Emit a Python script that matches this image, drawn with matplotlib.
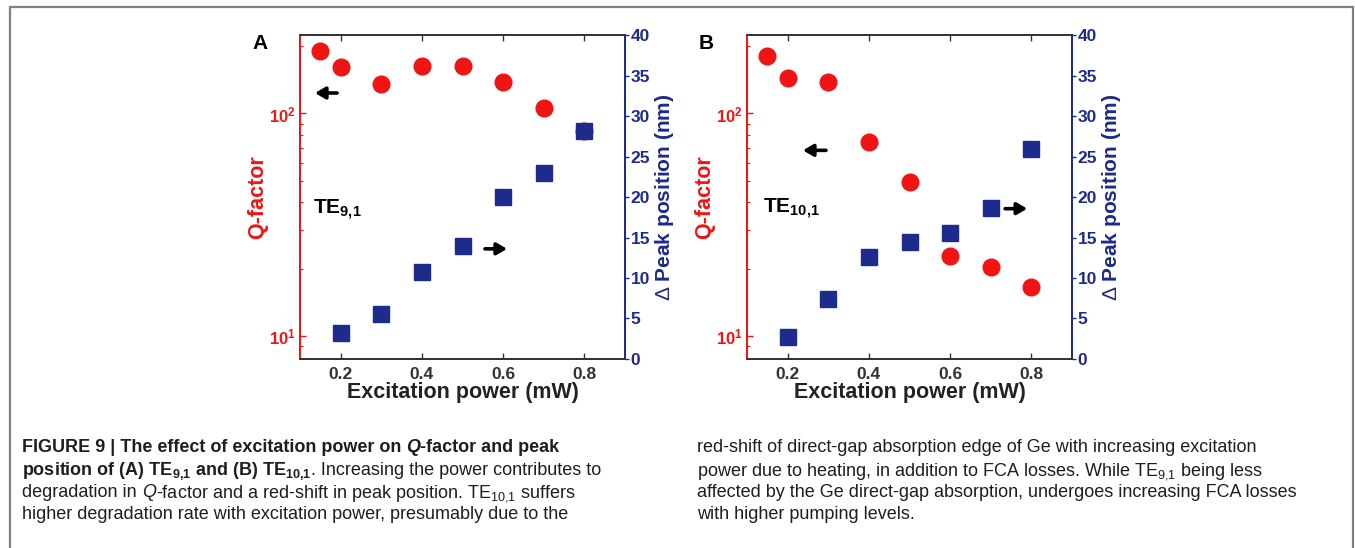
import numpy as np
import matplotlib
matplotlib.use("Agg")
import matplotlib.pyplot as plt
from matplotlib.patches import Rectangle
from matplotlib.ticker import FixedLocator, FixedFormatter, LogLocator, NullFormatter

plt.rcParams["font.family"] = ["Liberation Sans", "DejaVu Sans"]
plt.rcParams["mathtext.fontset"] = "custom"
plt.rcParams["mathtext.rm"] = "Liberation Sans"
plt.rcParams["mathtext.bf"] = "Liberation Sans:bold"
plt.rcParams["mathtext.it"] = "Liberation Sans:italic"

# Data
power_q = [0.15, 0.2, 0.3, 0.4, 0.5, 0.6, 0.7, 0.8]
power_shift = [0.2, 0.3, 0.4, 0.5, 0.6, 0.7, 0.8]

q_te91 = [190, 162, 135, 163, 163, 138, 106, 83]
shift_te91 = [3.2, 5.6, 10.8, 13.9, 20.0, 23.0, 28.1]

q_te101 = [182, 145, 138, 74.6, 49.4, 23.0, 20.4, 16.6]
shift_te101 = [2.75, 7.4, 12.6, 14.5, 15.5, 18.6, 25.9]

x_ticks = [0.2, 0.4, 0.6, 0.8]
shift_ticks = [0, 5, 10, 15, 20, 25, 30, 35, 40]

RED = "#f01414"
NAVY = "#1c2b8c"
DARK = "#333333"

fig = plt.figure(figsize=(13.55, 5.48), dpi=100)

# light frame round the whole figure
fig.patches.append(Rectangle((10 / 1355, -0.05), 1343 / 1355, 1.05 - 7 / 548,
                             transform=fig.transFigure, fill=False,
                             edgecolor="#808080", lw=1.6))


def panel(left, q, shift, letter, mode, left_arrow, right_arrow, mode_pos):
    ax = fig.add_axes([left, 0.3449, 0.2399, 0.5912])
    ax2 = ax.twinx()

    ax.set_yscale("log")
    ax.set_xlim(0.1, 0.9)
    ax.set_ylim(7.9, 225)
    ax2.set_ylim(0, 40)

    ax.plot(power_q, q, "o", color=RED, ms=12, mec=RED, zorder=3)
    ax2.plot(power_shift, shift, "s", color=NAVY, ms=11, mec=NAVY, zorder=3)

    ax.set_xticks(x_ticks)
    ax.set_xticklabels([f"{v:.1f}" for v in x_ticks])
    ax.tick_params(axis="x", direction="in", top=True, length=4, width=1,
                   colors=DARK, labelsize=12.5, pad=6)
    for lab in ax.get_xticklabels():
        lab.set_fontweight("bold")

    ax.yaxis.set_major_locator(FixedLocator([10, 100]))
    ax.yaxis.set_major_formatter(FixedFormatter([r"$\mathbf{10^{1}}$", r"$\mathbf{10^{2}}$"]))
    ax.yaxis.set_minor_locator(LogLocator(base=10, subs=np.arange(2, 10)))
    ax.yaxis.set_minor_formatter(NullFormatter())
    ax.tick_params(axis="y", which="major", direction="in", length=4, width=1,
                   colors=RED, labelsize=12, pad=3)
    ax.tick_params(axis="y", which="minor", direction="in", length=2, width=0.8, colors=RED)

    ax2.set_yticks(shift_ticks)
    ax2.tick_params(axis="y", length=3, width=1, colors=NAVY, labelsize=12.5, pad=1)
    for lab in ax2.get_yticklabels():
        lab.set_fontweight("bold")

    for a in (ax, ax2):
        a.spines["top"].set_color(DARK)
        a.spines["bottom"].set_color(DARK)
        a.spines["left"].set_color(RED)
        a.spines["right"].set_color(NAVY)
        for s in a.spines.values():
            s.set_linewidth(1.3)

    ax.set_xlabel("Excitation power (mW)", fontsize=15.5, fontweight="bold",
                  color="#222222", labelpad=0)
    ax.set_ylabel("Q-factor", fontsize=15.5, fontweight="bold", color=RED, labelpad=1)
    ax2.set_ylabel(r"$\Delta$ Peak position (nm)", fontsize=15, fontweight="bold",
                   color=NAVY, labelpad=2)

    ax.text(mode_pos[0], mode_pos[1], mode, transform=ax.transAxes,
            fontsize=15, fontweight="bold", ha="left", va="center")

    for (x0, x1, y) in (left_arrow, right_arrow):
        ax.annotate("", xy=(x1, y), xytext=(x0, y), xycoords="axes fraction",
                    textcoords="axes fraction",
                    arrowprops=dict(arrowstyle="-|>,head_length=0.6,head_width=0.35",
                                    color="black", lw=2.6, shrinkA=0, shrinkB=0))

    fig.text(letter[1], 0.92, letter[0], fontsize=15, fontweight="bold",
             ha="left", va="center")
    return ax


panel(0.2214, q_te91, shift_te91, ("A", 252 / 1355), r"TE$_{\mathbf{9{,}1}}$",
      (0.114, 0.046, 0.821), (0.569, 0.637, 0.34), (0.04, 0.46))
panel(0.5513, q_te101, shift_te101, ("B", 699 / 1355), r"TE$_{\mathbf{10{,}1}}$",
      (0.243, 0.172, 0.644), (0.794, 0.862, 0.464), (0.05, 0.464))

# Caption, drawn piece by piece so bold, italic and subscripts can mix
renderer = fig.canvas.get_renderer()
CAP = 13


def caption_line(x_px, y_px, pieces):
    x = x_px / 1355
    y = 1 - y_px / 548
    for txt, weight, style in pieces:
        t = fig.text(x, y, txt, fontsize=CAP, fontweight=weight, fontstyle=style,
                     color="#1e1e1e", ha="left", va="baseline")
        bb = t.get_window_extent(renderer)
        x += bb.width / 1355


left_lines = [
    [("FIGURE 9 | The effect of excitation power on ", "bold", "normal"),
     ("Q", "bold", "italic"),
     ("-factor and peak", "bold", "normal")],
    [("position of (A) TE$_{\\mathbf{9{,}1}}$ and (B) TE$_{\\mathbf{10{,}1}}$", "bold", "normal"),
     (". Increasing the power contributes to", "normal", "normal")],
    [("degradation in ", "normal", "normal"),
     ("Q", "normal", "italic"),
     ("-factor and a red-shift in peak position. TE$_{10{,}1}$ suffers", "normal", "normal")],
    [("higher degradation rate with excitation power, presumably due to the", "normal", "normal")],
]
right_lines = [
    [("red-shift of direct-gap absorption edge of Ge with increasing excitation", "normal", "normal")],
    [("power due to heating, in addition to FCA losses. While TE$_{9{,}1}$ being less", "normal", "normal")],
    [("affected by the Ge direct-gap absorption, undergoes increasing FCA losses", "normal", "normal")],
    [("with higher pumping levels.", "normal", "normal")],
]
line_y = [452, 475, 497, 519]
for y, pieces in zip(line_y, left_lines):
    caption_line(22, y, pieces)
for y, pieces in zip(line_y, right_lines):
    caption_line(697, y, pieces)

fig.savefig("out.png", dpi=100)
